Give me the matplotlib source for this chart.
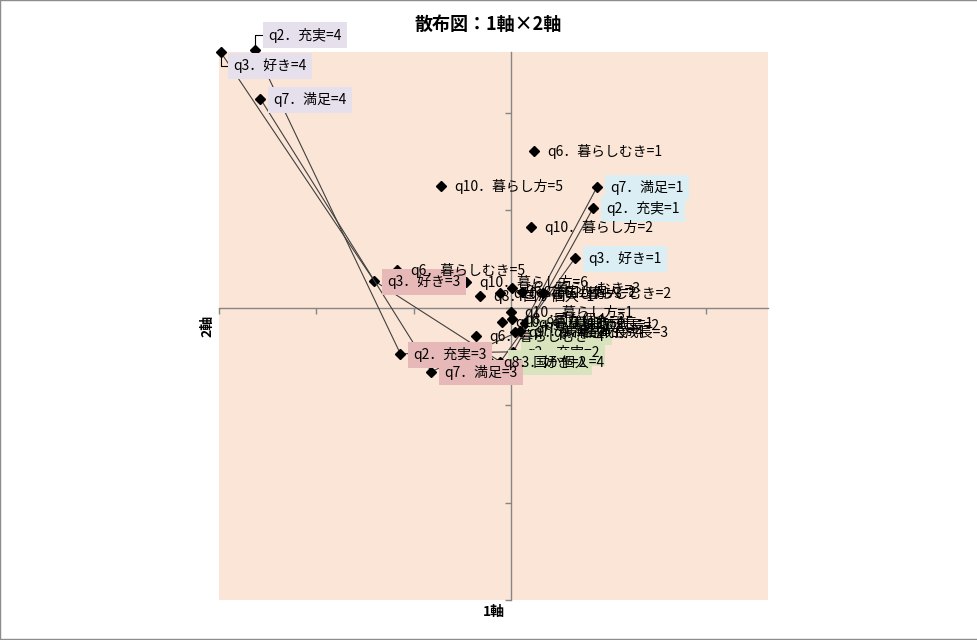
import matplotlib
matplotlib.use("Agg")
import matplotlib.pyplot as plt
from matplotlib.patches import Rectangle

plt.rcParams['font.family'] = ['Noto Sans CJK JP', 'DejaVu Sans']

# ---- data (correspondence analysis coordinates: axis1, axis2) ----
q2_labels = ["q2．充実=1", "q2．充実=2", "q2．充実=3", "q2．充実=4"]
q2_x = [0.421, 0.010, -0.569, -1.313]
q2_y = [0.513, -0.226, -0.236, 1.323]

q3_labels = ["q3．好き=1", "q3．好き=2", "q3．好き=3", "q3．好き=4"]
q3_x = [0.328, -0.056, -0.703, -1.492]
q3_y = [0.256, -0.277, 0.138, 1.313]

q7_labels = ["q7．満足=1", "q7．満足=2", "q7．満足=3", "q7．満足=4"]
q7_x = [0.441, 0.046, -0.410, -1.287]
q7_y = [0.621, -0.118, -0.328, 1.072]

q6_labels = ["q6．暮らしむき=1", "q6．暮らしむき=2", "q6．暮らしむき=3",
             "q6．暮らしむき=4", "q6．暮らしむき=5"]
q6_x = [0.118, 0.164, 0.003, -0.179, -0.585]
q6_y = [0.805, 0.077, 0.103, -0.144, 0.195]

q8_labels = ["q8．国か個人=1", "q8．国か個人=2", "q8．国か個人=3", "q8．国か個人=4"]
q8_x = [-0.159, 0.056, 0.002, -0.108]
q8_y = [0.062, 0.082, -0.056, -0.277]

q9_labels = ["q9．精神的成長=1", "q9．精神的成長=2", "q9．精神的成長=3", "q9．精神的成長=4"]
q9_x = [0.072, 0.103, 0.149, 0.021]
q9_y = [-0.077, -0.087, -0.123, -0.123]

q10_labels = ["q10．暮らし方=1", "q10．暮らし方=2", "q10．暮らし方=3",
              "q10．暮らし方=4", "q10．暮らし方=5", "q10．暮らし方=6"]
q10_x = [0.001, 0.103, -0.056, -0.046, -0.359, -0.231]
q10_y = [-0.021, 0.415, 0.077, -0.072, 0.626, 0.133]

# label background colours by level for the connected series
level_colors = ["#DAEEF3", "#D7E4BD", "#E6B9B8", "#E5E0EC"]

fig = plt.figure(figsize=(9.78, 6.40), dpi=100)
ax = fig.add_axes([219/978, 1-600/640, (768-219)/978, (600-52)/640])
ax.set_facecolor("#FBE5D6")
ax.set_xlim(-1.497, 1.318)
ax.set_ylim(-1.497, 1.313)

for s in ["top", "right"]:
    ax.spines[s].set_visible(False)
for s in ["left", "bottom"]:
    ax.spines[s].set_position(("data", 0))
    ax.spines[s].set_color("#868686")
    ax.spines[s].set_linewidth(1.0)
ticks = [-1.5, -1.0, -0.5, 0.0, 0.5, 1.0]
ax.set_xticks(ticks)
ax.set_yticks(ticks)
ax.set_xticklabels([])
ax.set_yticklabels([])
ax.tick_params(direction="out", length=4, width=1.0, color="#868686")

line_series = [(q2_labels, q2_x, q2_y), (q3_labels, q3_x, q3_y), (q7_labels, q7_x, q7_y)]
point_series = [(q6_labels, q6_x, q6_y), (q8_labels, q8_x, q8_y),
                (q9_labels, q9_x, q9_y), (q10_labels, q10_x, q10_y)]

mk = dict(marker="D", markersize=5.5, markerfacecolor="black", markeredgecolor="black")

for labels, xs, ys in line_series:
    ax.plot(xs, ys, color="#404040", lw=0.8, zorder=3, clip_on=False, **mk)
for labels, xs, ys in point_series:
    ax.plot(xs, ys, linestyle="none", zorder=3, clip_on=False, **mk)

px = 0.72  # points per pixel
default_off = (13 * px, -1 * px)
special_off = {"q2．充実=4": (13 * px, 15 * px), "q3．好き=4": (13 * px, -14 * px)}

# plain labels
for labels, xs, ys in point_series:
    for lab, x, y in zip(labels, xs, ys):
        ax.annotate(lab, (x, y), xytext=default_off, textcoords="offset points",
                    ha="left", va="center", fontsize=10, color="black",
                    zorder=6, annotation_clip=False)

# boxed labels
for labels, xs, ys in line_series:
    for i, (lab, x, y) in enumerate(zip(labels, xs, ys)):
        off = special_off.get(lab, default_off)
        kw = {}
        if lab in special_off:
            kw["arrowprops"] = dict(arrowstyle="-", color="black", lw=0.8,
                                    shrinkA=0, shrinkB=3, relpos=(0, 0.5),
                                    connectionstyle="angle,angleA=0,angleB=90,rad=0")
        ax.annotate(lab, (x, y), xytext=off, textcoords="offset points",
                    ha="left", va="center", fontsize=10, color="black",
                    bbox=dict(boxstyle="square,pad=0.38", fc=level_colors[i], ec="none"),
                    zorder=5, annotation_clip=False, **kw)

fig.text(488/978, 1-24/640, "散布図：1軸×2軸", ha="center", va="center",
         fontsize=13, fontweight="bold")
fig.text(494/978, 1-612/640, "1軸", ha="center", va="center",
         fontsize=10, fontweight="bold")
fig.text(207/978, 1-326/640, "2軸", ha="center", va="center",
         fontsize=10, fontweight="bold", rotation=90)

fig.patches.append(Rectangle((0.0005, 0.0008), 0.999, 0.9985, transform=fig.transFigure,
                             fill=False, ec="#8c8c8c", lw=1.0))

fig.savefig("out.png", dpi=100)
